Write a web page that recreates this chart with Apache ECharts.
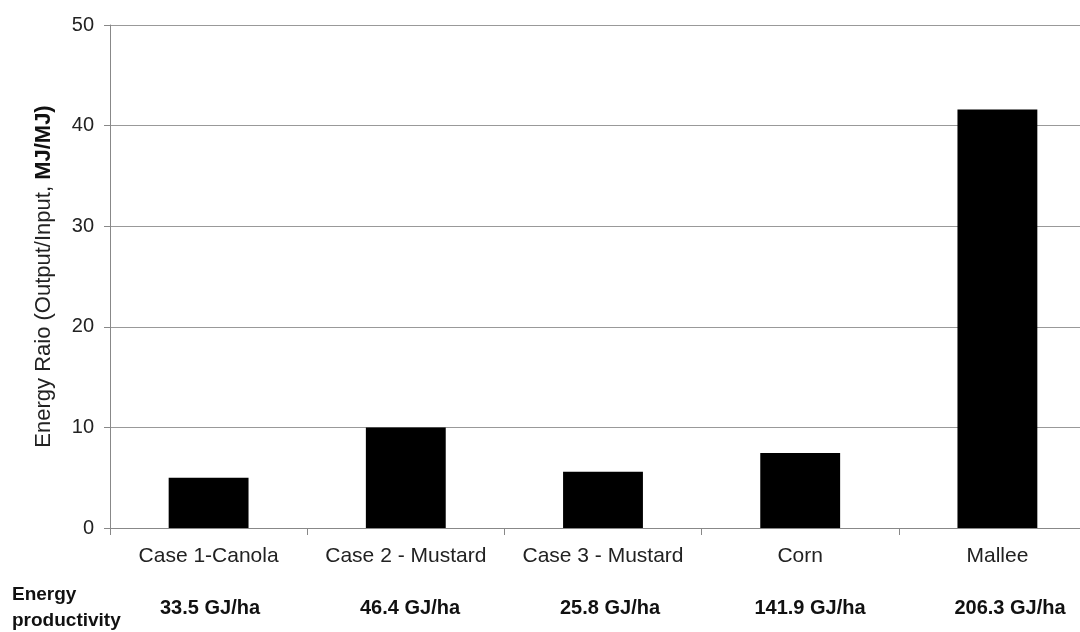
<!DOCTYPE html>
<html><head><meta charset="utf-8">
<script src="https://cdn.jsdelivr.net/npm/echarts@6/dist/echarts.min.js"></script>
<style>html,body{margin:0;padding:0;overflow:hidden;background:#fff;width:1080px;height:632px}#c{width:1120px;height:632px}</style>
</head><body><div id="c"></div>
<script>
const categories = ['Case 1-Canola', 'Case 2 - Mustard', 'Case 3 - Mustard', 'Corn', 'Mallee'];
const energyRatio = [5.0, 10.0, 5.6, 7.45, 41.6];
const productivity = ['33.5 GJ/ha', '46.4 GJ/ha', '25.8 GJ/ha', '141.9 GJ/ha', '206.3 GJ/ha'];

const FF = 'Liberation Sans, Arial, sans-serif';
const chart = echarts.init(document.getElementById('c'), null, {renderer: 'canvas'});
chart.setOption({
  animation: false,
  textStyle: {fontFamily: FF},
  grid: [
    {left: 110, right: 24, top: 25, bottom: 104, containLabel: false},
    {left: 110, right: 10, top: 25, bottom: 104, containLabel: false}
  ],
  xAxis: [{
    type: 'category', data: categories, position: 'bottom', gridIndex: 0,
    axisLine: {lineStyle: {color: '#888', width: 1}},
    axisTick: {show: true, length: 7, interval: 0, lineStyle: {color: '#888'}},
    axisLabel: {color: '#222', fontSize: 21, margin: 18, interval: 0, hideOverlap: false}
  }, {
    type: 'category', data: productivity, position: 'bottom', offset: 62, gridIndex: 1,
    axisLine: {show: false}, axisTick: {show: false},
    axisLabel: {color: '#111', fontSize: 20, fontWeight: 'bold', margin: 8, interval: 0, hideOverlap: false}
  }],
  yAxis: [{
    type: 'value', min: 0, max: 50, interval: 10, gridIndex: 0,
    name: '{a|Energy Raio (Output/Input, }{b|MJ/MJ)}',
    nameLocation: 'middle', nameGap: 55, nameRotate: 90,
    nameTextStyle: {rich: {a: {fontSize: 22, color: '#222', fontFamily: FF}, b: {fontSize: 22, color: '#111', fontWeight: 'bold', fontFamily: FF}}},
    axisLine: {show: true, lineStyle: {color: '#888'}},
    axisTick: {show: true, length: 6, lineStyle: {color: '#888'}},
    axisLabel: {color: '#222', fontSize: 20, margin: 16},
    splitLine: {lineStyle: {color: '#999', width: 1}}
  }, {
    type: 'value', min: 0, max: 50, gridIndex: 1, show: false, splitLine: {show: false}
  }],
  graphic: [{
    type: 'text', left: 12, top: 582,
    style: {text: 'Energy\nproductivity', font: 'bold 19px Liberation Sans, Arial, sans-serif', fill: '#111', lineHeight: 26}
  }],
  series: [{
    type: 'bar', data: energyRatio, xAxisIndex: 0, yAxisIndex: 0, barWidth: '40.5%',
    itemStyle: {color: '#000'}
  }]
});
</script></body></html>
